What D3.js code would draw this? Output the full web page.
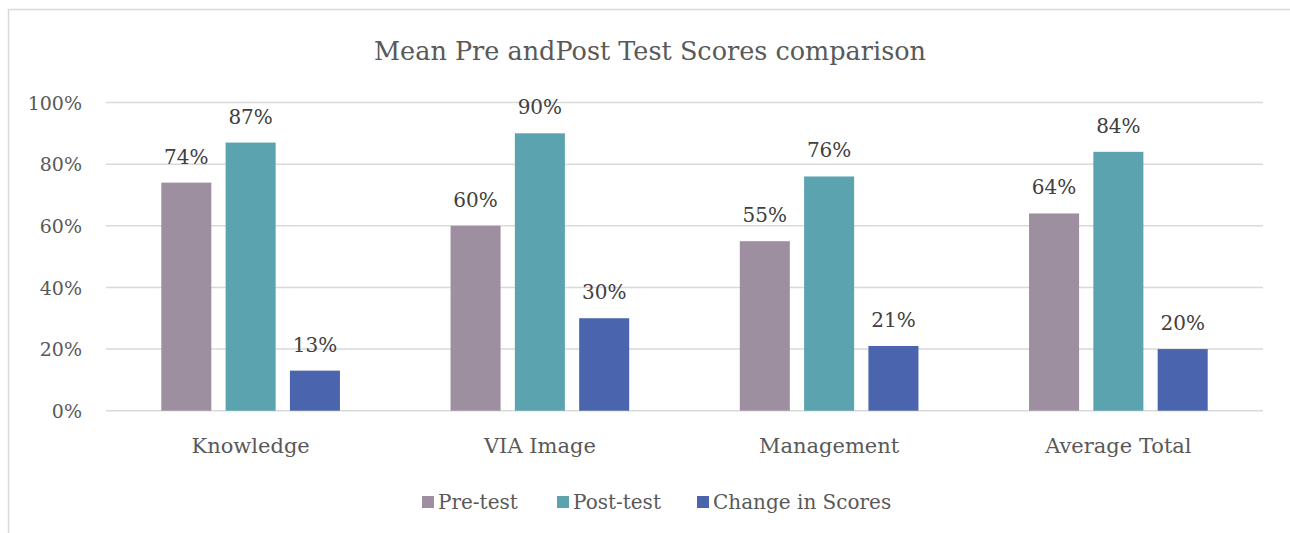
<!DOCTYPE html>
<html>
<head>
<meta charset="utf-8">
<script src="https://cdn.jsdelivr.net/npm/d3@7"></script>
<style>
  body { margin: 0; background: #fff; }
  text { font-family: "DejaVu Serif", "Liberation Serif", serif; fill: #595959; }
</style>
</head>
<body>
<svg id="chart" width="1290" height="533"></svg>
<script>
var categories = ['Knowledge', 'VIA Image', 'Management', 'Average Total'];
var seriesNames = ['Pre-test', 'Post-test', 'Change in Scores'];
var preTest = [0.74, 0.60, 0.55, 0.64];
var postTest = [0.87, 0.90, 0.76, 0.84];
var changeScores = [0.13, 0.30, 0.21, 0.20];
var yTicks = [0, 0.2, 0.4, 0.6, 0.8, 1.0];
var colors = ['#9e8fa0', '#5ba3ae', '#4a65ad'];

var series = [preTest, postTest, changeScores];

var svg = d3.select('#chart');

// chart frame
svg.append('rect')
  .attr('x', 8.5).attr('y', 9.5)
  .attr('width', 1300).attr('height', 540)
  .attr('fill', 'none').attr('stroke', '#d9d9d9').attr('stroke-width', 1.5);

var plotLeft = 106, plotRight = 1263, plotTop = 102.5, plotBottom = 410.7;

var x = d3.scaleBand().domain(categories).range([plotLeft, plotRight]);
var sub = d3.scaleBand().domain(d3.range(3)).range([0, x.bandwidth()])
  .paddingInner(0.222).paddingOuter(0.86);
var y = d3.scaleLinear().domain([0, 1]).range([plotBottom, plotTop]);

svg.append('text')
  .attr('x', 650).attr('y', 60)
  .attr('text-anchor', 'middle')
  .style('font-size', '25.5px')
  .text('Mean Pre andPost Test Scores comparison');

// gridlines
svg.append('g').selectAll('line').data(yTicks).join('line')
  .attr('x1', plotLeft).attr('x2', plotRight)
  .attr('y1', function(d) { return y(d); }).attr('y2', function(d) { return y(d); })
  .attr('stroke', '#d9d9d9').attr('stroke-width', 1.5);

var yAxis = d3.axisLeft(y).tickValues(yTicks).tickFormat(d3.format('.0%')).tickSize(0).tickPadding(0);
svg.append('g')
  .attr('transform', 'translate(82,0)')
  .call(yAxis)
  .call(function(g) { g.select('.domain').remove(); })
  .selectAll('text')
  .attr('dy', '0.35em')
  .style('font-size', '19px')
  .style('font-family', '"DejaVu Serif", serif')
  .attr('fill', '#595959');

var groups = svg.append('g').selectAll('g').data(series).join('g')
  .attr('fill', function(d, i) { return colors[i]; });

groups.each(function(vals, si) {
  var g = d3.select(this);
  g.selectAll('rect').data(vals).join('rect')
    .attr('x', function(d, ci) { return x(categories[ci]) + sub(si); })
    .attr('width', sub.bandwidth())
    .attr('y', function(d) { return y(d); })
    .attr('height', function(d) { return plotBottom - y(d); });
  g.selectAll('text').data(vals).join('text')
    .attr('x', function(d, ci) { return x(categories[ci]) + sub(si) + sub.bandwidth() / 2; })
    .attr('y', function(d) { return y(d) - 19; })
    .attr('text-anchor', 'middle')
    .style('font-size', '20px')
    .style('fill', '#404040')
    .text(function(d) { return d3.format('.0%')(d); });
});

var xAxis = d3.axisBottom(x).tickSize(0).tickPadding(0);
svg.append('g')
  .attr('transform', 'translate(0,' + plotBottom + ')')
  .call(xAxis)
  .call(function(g) { g.select('.domain').remove(); })
  .selectAll('text')
  .attr('dy', 0).attr('y', 42)
  .style('font-size', '21px')
  .style('font-family', '"DejaVu Serif", serif')
  .attr('fill', '#595959');

// legend
var legendX = [422, 557, 697];
var legend = svg.append('g').selectAll('g').data(seriesNames).join('g')
  .attr('transform', function(d, i) { return 'translate(' + legendX[i] + ',496)'; });
legend.append('rect')
  .attr('width', 12).attr('height', 12)
  .attr('fill', function(d, i) { return colors[i]; });
legend.append('text')
  .attr('x', 16).attr('y', 13)
  .style('font-size', '20px')
  .text(function(d) { return d; });
</script>
</body>
</html>
